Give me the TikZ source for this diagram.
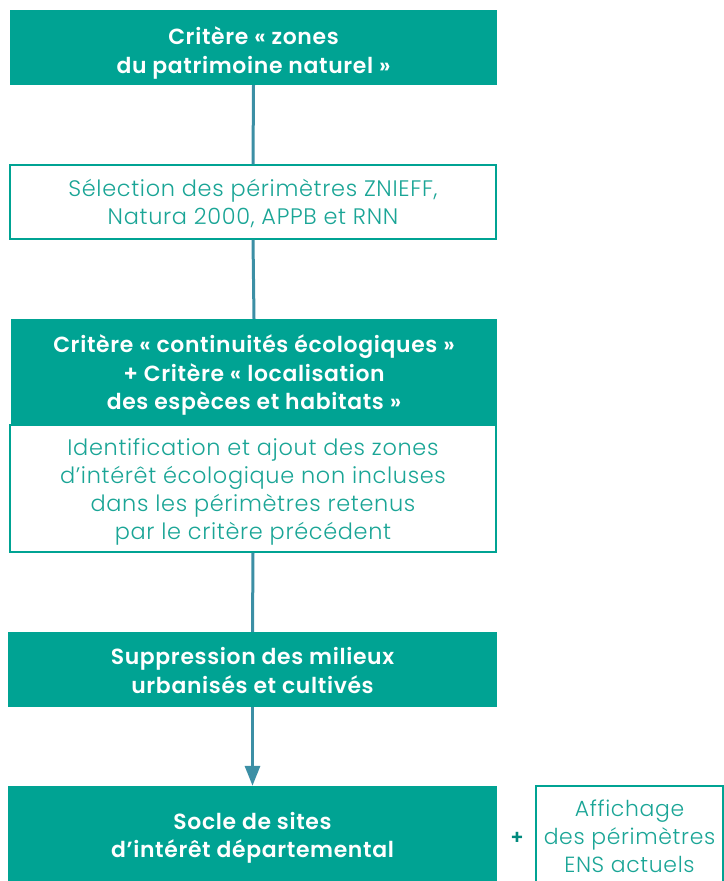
\documentclass[tikz,border=0pt]{standalone}
\usepackage{fontspec}
\setmainfont{Poppins}[BoldFont={Poppins SemiBold},LetterSpace=3]
\newfontfamily\lightfont{Poppins Light}[LetterSpace=3]
\usetikzlibrary{arrows.meta}
\definecolor{teal1}{HTML}{00A393}
\definecolor{tealtxt}{HTML}{1AA596}
\definecolor{linec}{HTML}{3C8FA5}
\begin{document}
\begin{tikzpicture}[x=1bp,y=-1bp,
  fillbox/.style={rectangle,fill=teal1,inner sep=0pt},
  linebox/.style={rectangle,draw=teal1,line width=1.2bp,fill=white,inner sep=0pt},
  wtext/.style={text=white,inner sep=0pt,align=center,font=\fontsize{22}{28.5}\selectfont\bfseries},
  ttext/.style={text=tealtxt,inner sep=0pt,align=center,font=\fontsize{22.5}{28}\selectfont\lightfont},
  conn/.style={draw=linec,line width=3bp}]
\useasboundingbox (0,0) rectangle (724,881);
\node[fillbox,minimum width=487bp,minimum height=75bp] (b1) at (253.5,47.5) {};
\node[wtext] (t1) at (253.5,53) {Critère « zones\\du patrimoine naturel »};
\node[linebox,minimum width=486bp,minimum height=74bp] (b2) at (253,202) {};
\node[ttext] (t2) at (253,203.5) {Sélection des périmètres ZNIEFF,\\Natura 2000, APPB et RNN};
\node[fillbox,minimum width=486bp,minimum height=106bp] (b3) at (254,372) {};
\node[wtext] (t3) at (254,375) {Critère « continuités écologiques »\\+ Critère « localisation\\des espèces et habitats »};
\node[linebox,minimum width=486bp,minimum height=127bp] (b4) at (253,488.5) {};
\node[ttext] (t4) at (253,492) {Identification et ajout des zones\\d’intérêt écologique non incluses\\dans les périmètres retenus\\par le critère précédent};
\node[fillbox,minimum width=489bp,minimum height=75bp] (b5) at (252.5,669.5) {};
\node[wtext] (t5) at (252.5,670.5) {Suppression des milieux\\urbanisés et cultivés};
\node[fillbox,minimum width=489bp,minimum height=100bp] (b6) at (252.5,836) {};
\node[wtext] (t6) at (252.5,838) {Socle de sites\\d’intérêt départemental};
\node[linebox,minimum width=187bp,minimum height=100bp] (b7) at (629.5,836) {};
\node[ttext,font=\fontsize{22}{28}\selectfont\lightfont] (t7) at (629.5,836) {Affichage\\des périmètres\\ENS actuels};
\node[text=teal1!85!black,font=\fontsize{20}{24}\selectfont\bfseries] (plus) at (517,838) {+};
\draw[conn] (b1.south) -- (b2.north);
\draw[conn] (b2.south) -- (b3.north);
\draw[conn] (b4.south) -- (b5.north);
\draw[conn,-{Triangle[length=20bp,width=15bp]},linec] (b5.south) -- (b6.north);
\end{tikzpicture}
\end{document}
